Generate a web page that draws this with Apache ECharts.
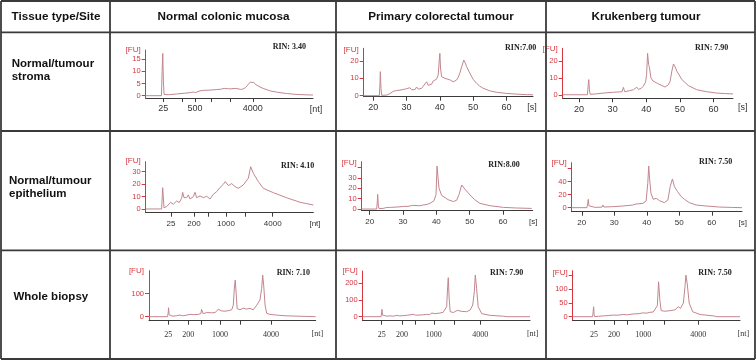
<!DOCTYPE html>
<html><head><meta charset="utf-8">
<script src="https://cdn.jsdelivr.net/npm/echarts@6/dist/echarts.min.js"></script>
<style>html,body{margin:0;padding:0;background:#fff}#c{width:756px;height:360px}</style>
</head><body><div id="c"></div>
<script>
// ---------- text content ----------
const headerTitles = ['Tissue type/Site', 'Normal colonic mucosa', 'Primary colorectal tumour', 'Krukenberg tumour'];
const rowTitles = ['Normal/tumour\nstroma', 'Normal/tumour\nepithelium', 'Whole biopsy'];
const rinLabels = ['RIN: 3.40', 'RIN:7.00', 'RIN: 7.90', 'RIN: 4.10', 'RIN:8.00', 'RIN: 7.50', 'RIN: 7.10', 'RIN: 7.90', 'RIN: 7.50'];
const xUnits = ['[nt]', '[s]', '[s]', '[nt]', '[s]', '[s]', '[nt]', '[nt]', '[nt]'];

// ---------- tick values ----------
const secondTicks = [20, 30, 40, 50, 60];
const ladderLabels = ['25', '200', '500', '1000', '2000', '4000'];
const ladderTimesR1C1 = [22.47, 28.5, 32.3, 37.5, 43.2, 50.3];
const ladderTimesR2C1 = [24.85, 32.0, 36.4, 41.9, 48.0, 56.4];
const ladderTimesR3C1 = [23.02, 29.26, 33.44, 39.15, 45.6, 55.05];
const ladderTimesR3C2 = [22.9, 29.2, 33.4, 39.1, 45.4, 53.5];
const ladderTimesR3C3 = [23.6, 29.8, 33.8, 38.95, 45.35, 56.0];
const shownLadderR1 = ['25', '500', '4000'];
const shownLadder = ['25', '200', '1000', '4000'];

const yTicksR1C1 = [0, 5, 10, 15];
const yTicksR1C2 = [0, 10, 20];
const yTicksR1C3 = [0, 10, 20];
const yTicksR2C1 = [0, 10, 20, 30];
const yTicksR2C2 = [0, 10, 20, 30];
const yTicksR2C3 = [0, 20, 40];
const yTicksR3C1 = [0, 100];
const yTicksR3C2 = [0, 100, 200];
const yTicksR3C3 = [0, 50, 100];
const yHiddenTopTicks = [null, null, null, null, 40, 60, null, null, 150];

// axis ranges
const xRanges = [[17, 69], [17.1, 68], [15.15, 65.8], [17, 69], [17.6, 68.9], [16.9, 69.3], [17, 69], [17, 69], [17, 69]];
const yRanges = [[-0.95, 18.8], [-0.6, 27.4], [-2.1, 27.6], [-3.0, 38], [-1.6, 45.5], [-6.2, 69.2], [-17.4, 200], [-24, 274], [-14.6, 168]];

// ---------- traces [time, FU] ----------
const traceStromaMucosa = [[17,0],[21.9,0],[22.1,10],[22.3,17.4],[22.5,6],[22.7,0.5],[24,0.4],[26.6,0.7],[29,1.0],[31,1.3],[31.8,1.5],[32.5,1.3],[33.9,2.0],[35,2.2],[37,2.3],[38.9,2.5],[40.5,2.7],[41.4,3.0],[41.9,3.6],[42.4,2.9],[43.2,2.8],[45,3.0],[46.5,2.6],[47.2,2.7],[48,3.3],[48.8,4.5],[49.5,5.6],[50,6.2],[50.6,5.4],[51.3,4.5],[52.5,3.6],[53.5,3.0],[55.6,2.0],[58,1.4],[60.8,0.9],[64,0.5],[68,0.3],[69,0.3]];
const traceStromaPrimary = [[17.1,0],[21.8,0],[22.0,7],[22.1,13.9],[22.3,4],[22.5,0.2],[24,0.3],[25,1.2],[25.5,2.0],[26,2.5],[26.5,1.8],[27,3.0],[27.5,2.2],[28,3.2],[28.5,2.8],[29,3.6],[29.5,2.6],[30,4.0],[30.5,3.0],[31,4.6],[31.5,3.4],[32,4.2],[32.5,3.5],[33,5.0],[33.5,3.8],[34,4.6],[34.5,4.2],[35,5.5],[35.5,4.8],[36,8.0],[36.5,6.0],[37,7.0],[37.5,6.6],[38,8.5],[38.5,8.0],[39,9.5],[39.5,12],[39.8,20],[40,24.5],[40.2,16],[40.5,11],[41,10.5],[41.5,10],[42,10.8],[43,9.2],[44,8.0],[45,9.0],[45.5,10.5],[46,13],[46.6,17],[47.2,20.6],[47.6,19],[48,17],[49,13],[50,9.5],[51,7.2],[52,5.5],[53,4.3],[55,2.8],[57,2.0],[60,1.3],[63,0.9],[66,0.6],[68,0.5]];
const traceStromaKrukenberg = [[15.2,0],[22.5,0],[22.7,5],[22.9,9],[23.1,3],[23.3,0.3],[25,0.5],[27.2,1.0],[30.2,1.5],[32.8,1.8],[33.2,4.4],[33.6,1.8],[35,2.4],[36.2,3.0],[36.7,2.4],[37.2,4.5],[37.7,3.2],[38.5,3.8],[39.1,5.0],[39.8,7.5],[40.1,12],[40.4,24.6],[40.7,18],[40.9,16.7],[41.4,10],[42,8.2],[42.6,7.5],[43.3,6.8],[44.1,6],[45.6,4.6],[46.5,5.8],[47.1,8],[47.6,14],[48.1,18.3],[48.6,16.5],[49.1,14],[50.6,9],[52.5,5.5],[55,3],[58,1.8],[61,1.0],[63.5,0.7],[65.8,0.5]];
const traceEpitheliumMucosa = [[17,0],[21.95,0],[22.27,17.1],[22.68,1.0],[23.5,1.9],[24.75,5.4],[25.57,3.8],[26.6,6.4],[27.4,5.2],[28.16,8.6],[28.47,13.4],[28.88,9.1],[29.71,9.1],[30.23,11.3],[30.74,8.0],[31.78,9.9],[32.3,13.4],[32.8,9.1],[33.85,10.5],[34.88,9.1],[35.92,10.2],[36.95,8.0],[37.98,11.8],[39.02,13.9],[40.05,17.2],[41.09,19.8],[41.71,22.0],[42.64,18.8],[43.67,20.4],[44.71,18.0],[45.74,16.6],[47.29,19.3],[48.84,24.7],[49.57,34.0],[50.4,28.7],[51.95,22.0],[53.5,16.6],[56.6,13.1],[60.74,9.0],[64.88,5.4],[69,3.2]];
const traceEpitheliumPrimary = [[17.6,0],[22.1,0],[22.3,8],[22.4,14.1],[22.6,3],[22.8,0.5],[24,0.6],[25.1,1.5],[26.2,1.6],[26.6,3.5],[27,1.7],[28.5,2.0],[30.1,2.5],[31.5,2.6],[32.8,3.5],[33.3,2.8],[35,3.2],[36.1,3.9],[37.2,4.4],[38.1,5.5],[39.3,8],[39.9,14],[40.2,41.3],[40.5,30],[40.8,20],[41.6,13],[42.6,11],[43.5,9],[44.1,7.7],[45.1,7.2],[46.1,8.5],[46.8,14],[47.6,23.1],[48.6,19],[50.1,13.5],[51.5,9],[53.1,5.4],[56.1,3.2],[60.1,1.6],[64,1.0],[68.6,0.6]];
const traceEpitheliumKrukenberg = [[16.9,0],[21.6,0],[21.8,6],[22.0,12.8],[22.2,3],[22.4,0.3],[24,0.5],[26.2,0.8],[26.5,4.1],[26.8,1.0],[29.4,1.5],[32.5,2.5],[35.6,4.0],[36.6,5.5],[38.8,6.6],[39.8,10.3],[40.3,37.4],[40.6,64.1],[40.9,42.6],[41.3,22],[42.0,12.8],[42.9,14.4],[43.9,10.8],[45.4,7.7],[46.5,11.8],[47.2,32.4],[47.9,44.2],[48.5,32.4],[49.5,24.6],[50.6,17],[51.6,12.8],[53.1,7.7],[55.2,4.1],[58.2,2.6],[62.3,1.0],[66,0.4],[69.3,0]];
const traceBiopsyMucosa = [[17,0],[22.8,0],[23.0,20],[23.1,39],[23.3,8],[23.5,1],[24.5,2],[25.6,4.3],[26.7,7.2],[27.5,4],[28.5,6],[29.8,10.1],[30.8,9],[31.3,15.9],[32.4,10],[33.2,14],[33.4,31.9],[33.9,13],[35.0,18],[35.5,22],[36.5,17],[37.6,18],[38.6,31.9],[39.7,25],[40.7,24],[41.7,26],[42.8,30],[43.3,50],[43.6,120],[43.9,159.4],[44.2,100],[44.5,35],[45.4,30],[46.4,37],[47.4,33],[48.5,36],[49.5,30],[50.6,50],[51.1,58],[51.6,72],[52.15,123],[52.46,181],[52.77,138],[53.2,51],[53.7,15],[54.7,10],[56.8,7],[59.4,4],[59.9,0],[69,0]];
const traceBiopsyPrimary = [[17,0],[22.7,0],[22.85,22],[23.0,44],[23.15,10],[23.3,0.5],[24.5,3],[25.5,5],[26.5,3],[27.6,8],[28.5,5],[29.6,6],[31,9],[32.7,14],[33.5,9],[34.8,10],[36,12],[36.9,14],[37.8,13],[38.5,22],[39.5,18],[41,22],[42.0,26],[42.6,30],[43.1,60],[43.4,180],[43.6,234],[43.9,100],[44.2,30],[45.2,25],[46.4,38],[47.8,32],[49.3,30],[50.4,40],[51.2,70],[51.7,150],[52.0,250],[52.4,170],[52.9,60],[54.0,18],[56.6,8],[60.7,3],[61.8,0],[69,0]];
const traceBiopsyKrukenberg = [[17,0],[23.2,0],[23.35,18],[23.5,36.5],[23.65,8],[23.8,0.5],[25,1.5],[26.5,3],[28,4],[29.6,6],[31,5.5],[32.7,8],[34,7],[35.8,10],[37.5,11],[38.9,14],[40,13],[41,16],[42,17],[42.6,22],[43.3,40],[43.7,127.7],[44.1,60],[44.5,22],[45.7,20],[47.2,22],[48.8,25],[49.8,36.5],[50.5,30],[51.4,50],[51.9,110],[52.2,152],[52.6,120],[53.2,50],[54.3,18],[56.6,8],[60.7,3],[61.8,0],[69,0]];

// ---------- layout (pixels) ----------
// [yAxis x, x-axis end, y-axis top, x-axis y]
const panelBoxes = [
  [145.7, 313, 50, 98], [363.7, 533, 48.3, 96.7], [562.7, 733, 48.3, 98.3],
  [145.7, 313.3, 161.7, 212.7], [361.7, 532.7, 161.7, 210.7], [571.7, 742, 162.7, 211.7],
  [149, 315.7, 270.7, 320.7], [362.7, 530, 271, 320.7], [572.7, 740, 270.7, 320.7]
];
const rinPos = [[272.7, 47], [505, 47.7], [695, 47.7], [281, 165.7], [488.3, 165], [699, 162.3], [276.7, 273.3], [490, 273.3], [698.3, 273.3]];
const fuY = [49.3, 49.5, 49, 160.8, 162.7, 162.7, 271, 271, 273];
const unitPos = [[316, 109.5], [532, 108], [742.7, 108], [315, 223.5], [533.3, 221.5], [742.7, 222.3], [317.3, 334], [532.7, 334], [743.3, 334]];
const rowStyle = [{font: 9, margin: 6.5, family: 'Liberation Sans, Arial, sans-serif'}, {font: 8, margin: 7, family: 'Liberation Sans, Arial, sans-serif'}, {font: 8, margin: 10, family: 'Liberation Serif, Times New Roman, serif'}];

const traces = [traceStromaMucosa, traceStromaPrimary, traceStromaKrukenberg, traceEpitheliumMucosa, traceEpitheliumPrimary, traceEpitheliumKrukenberg, traceBiopsyMucosa, traceBiopsyPrimary, traceBiopsyKrukenberg];
const yTicks = [yTicksR1C1, yTicksR1C2, yTicksR1C3, yTicksR2C1, yTicksR2C2, yTicksR2C3, yTicksR3C1, yTicksR3C2, yTicksR3C3];
const ladderTimes = [ladderTimesR1C1, null, null, ladderTimesR2C1, null, null, ladderTimesR3C1, ladderTimesR3C2, ladderTimesR3C3];

const RED = '#d6363f';
const TRACE = '#c2868f';
const AXIS = '#3a3a3a';

const grids = [], xAxes = [], yAxes = [], series = [], graphics = [];
traces.forEach((tr, i) => {
  const b = panelBoxes[i];
  const row = Math.floor(i / 3);
  const rs = rowStyle[row];
  grids.push({left: b[0], top: b[2], width: b[1] - b[0], height: b[3] - b[2], containLabel: false, outerBoundsMode: 'none'});
  let tickVals, labelVals, fmt;
  if (ladderTimes[i]) {
    const times = ladderTimes[i];
    const shown = i === 0 ? shownLadderR1 : shownLadder;
    tickVals = times.slice();
    labelVals = times.filter((t, k) => shown.indexOf(ladderLabels[k]) >= 0);
    fmt = v => { const k = times.findIndex(t => Math.abs(t - v) < 1e-6); return k >= 0 ? ladderLabels[k] : ''; };
  } else {
    tickVals = secondTicks.slice();
    labelVals = secondTicks.slice();
    fmt = v => String(v);
  }
  xAxes.push({
    type: 'value', gridIndex: i, min: xRanges[i][0], max: xRanges[i][1],
    axisLine: {show: true, onZero: false, lineStyle: {color: AXIS, width: 1}},
    axisTick: {show: true, inside: false, length: 4, customValues: tickVals, lineStyle: {color: AXIS, width: 1}},
    axisLabel: {show: true, customValues: labelVals, formatter: fmt, fontSize: rs.font, fontFamily: rs.family, color: '#333', margin: rs.margin, hideOverlap: false},
    splitLine: {show: false}
  });
  const yt = yTicks[i].slice();
  if (yHiddenTopTicks[i] !== null) yt.push(yHiddenTopTicks[i]);
  yAxes.push({
    type: 'value', gridIndex: i, min: yRanges[i][0], max: yRanges[i][1],
    axisLine: {show: true, onZero: false, lineStyle: {color: RED, width: 1}},
    axisTick: {show: true, inside: false, length: 4, customValues: yt, lineStyle: {color: RED, width: 1}},
    axisLabel: {show: true, customValues: yTicks[i], fontSize: 7.5, fontFamily: 'Liberation Sans, Arial, sans-serif', color: RED, margin: 5, hideOverlap: false},
    splitLine: {show: false}
  });
  series.push({
    type: 'line', xAxisIndex: i, yAxisIndex: i, data: tr, showSymbol: false, symbol: 'none',
    lineStyle: {color: TRACE, width: 1}, silent: true, animation: false, clip: true
  });
  graphics.push({type: 'text', x: b[0] - 5, y: fuY[i], style: {text: '[FU]', font: '8px Liberation Sans, Arial, sans-serif', fill: RED, textAlign: 'right', align: 'right', textVerticalAlign: 'middle', verticalAlign: 'middle'}});
  graphics.push({type: 'text', x: rinPos[i][0], y: rinPos[i][1], style: {text: rinLabels[i], font: 'bold 8px Liberation Serif, Times New Roman, serif', fill: '#222', textAlign: 'left', align: 'left', textVerticalAlign: 'middle', verticalAlign: 'middle'}});
  graphics.push({type: 'text', x: unitPos[i][0], y: unitPos[i][1], style: {text: xUnits[i], font: rs.font + 'px ' + rs.family, fill: '#333', textAlign: 'center', align: 'center', textVerticalAlign: 'middle', verticalAlign: 'middle'}});
});

// table lines
const hLines = [1, 32.3, 131, 250.3, 359];
const vLines = [1, 110, 336, 546, 755];
hLines.forEach(y => graphics.push({type: 'line', shape: {x1: 1, y1: y, x2: 755, y2: y}, style: {stroke: AXIS, lineWidth: 1.8}}));
vLines.forEach(x => graphics.push({type: 'line', shape: {x1: x, y1: 1, x2: x, y2: 359}, style: {stroke: AXIS, lineWidth: 1.8}}));

// headers
const headerX = [56, 223.5, 441, 646];
headerTitles.forEach((t, k) => graphics.push({type: 'text', x: headerX[k], y: 16.5, style: {text: t, font: 'bold 11.7px Liberation Sans, Arial, sans-serif', fill: '#111', textAlign: 'center', align: 'center', textVerticalAlign: 'middle', verticalAlign: 'middle'}}));
// row titles
const rowTitlePos = [[11.7, 70.3, 'left'], [9, 187.3, 'left'], [50.8, 296.7, 'center']];
rowTitles.forEach((t, k) => graphics.push({type: 'text', x: rowTitlePos[k][0], y: rowTitlePos[k][1], style: {text: t, font: 'bold 11.5px Liberation Sans, Arial, sans-serif', lineHeight: 12.7, fill: '#111', textAlign: rowTitlePos[k][2], align: rowTitlePos[k][2], textVerticalAlign: 'middle', verticalAlign: 'middle'}}));

const chart = echarts.init(document.getElementById('c'), null, {renderer: 'canvas', width: 756, height: 360});
chart.setOption({
  animation: false,
  backgroundColor: '#fff',
  grid: grids, xAxis: xAxes, yAxis: yAxes, series: series,
  graphic: {elements: graphics}
});
</script></body></html>
